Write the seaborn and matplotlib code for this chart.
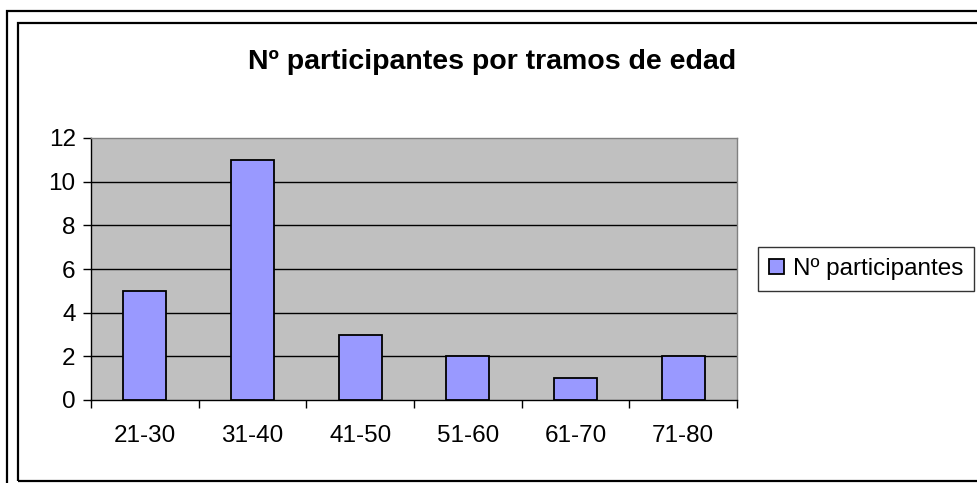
import matplotlib
matplotlib.use("Agg")
import matplotlib.pyplot as plt
import seaborn as sns
import pandas as pd
from matplotlib.patches import Rectangle

# datos
tramos = ["21-30", "31-40", "41-50", "51-60", "61-70", "71-80"]
participantes = [5, 11, 3, 2, 1, 2]
serie = "Nº participantes"
titulo = "Nº participantes por tramos de edad"

sns.set_theme(style="white")
plt.rcParams['font.family'] = ['Liberation Sans', 'DejaVu Sans']
plt.rcParams['text.color'] = 'black'
plt.rcParams['xtick.color'] = 'black'
plt.rcParams['ytick.color'] = 'black'

df = pd.DataFrame({"Tramo": tramos, "N": participantes})

W, H = 978, 483
fig = plt.figure(figsize=(W / 100, H / 100), dpi=100)
fig.patch.set_facecolor("white")

# marcos exteriores (estilo Excel)
fig.add_artist(Rectangle((7 / W, -0.1), 1.2, 1 - 11 / H + 0.1, transform=fig.transFigure,
                         fill=False, edgecolor="black", linewidth=1.6))
fig.add_artist(Rectangle((18 / W, 1 - 481 / H), 1.2, (481 - 23) / H, transform=fig.transFigure,
                         fill=False, edgecolor="black", linewidth=1.6))

ax = fig.add_axes([91 / W, 1 - 400 / H, (737 - 91) / W, (400 - 138) / H])
ax.set_facecolor("#C0C0C0")

sns.barplot(data=df, x="Tramo", y="N", color="#9999FF", edgecolor="black",
            linewidth=1.3, width=0.4, saturation=1, label=serie, ax=ax, zorder=3)

ax.set_ylim(0, 12)
ax.set_xlim(-0.5, len(tramos) - 0.5)
ax.set_yticks(range(0, 13, 2))
for v in range(2, 12, 2):
    ax.axhline(v, color="black", linewidth=1.0, zorder=1)

# ticks de categoría en los límites, etiquetas en los centros
ax.set_xticks([i - 0.5 for i in range(len(tramos) + 1)])
ax.set_xticklabels([])
ax.set_xticks(range(len(tramos)), minor=True)
ax.set_xticklabels(tramos, minor=True)
ax.tick_params(axis="x", which="major", length=6, width=1, color="black", direction="out", bottom=True)
ax.tick_params(axis="x", which="minor", length=0, pad=18, labelsize=17.5, labelcolor="black")
ax.tick_params(axis="y", length=6, width=1, color="black", direction="out", left=True,
               pad=5, labelsize=17.5, labelcolor="black")

ax.set_xlabel("")
ax.set_ylabel("")
for s in ["top", "right"]:
    ax.spines[s].set_color("#808080")
    ax.spines[s].set_linewidth(1)
for s in ["left", "bottom"]:
    ax.spines[s].set_color("black")
    ax.spines[s].set_linewidth(1)

fig.text(492 / W, 1 - 62 / H, titulo, ha="center", va="center",
         fontsize=20.5, fontweight="bold", color="black")

leg = ax.legend(loc="center left", bbox_to_anchor=(758 / W, 1 - 269 / H),
                bbox_transform=fig.transFigure, frameon=True, fancybox=False,
                fontsize=17.5, handlelength=0.6, handleheight=0.6,
                handletextpad=0.37, borderpad=0.45, borderaxespad=0)
leg.get_frame().set_edgecolor("black")
leg.get_frame().set_linewidth(1)
for t in leg.get_texts():
    t.set_color("black")

fig.savefig("out.png", dpi=100)
